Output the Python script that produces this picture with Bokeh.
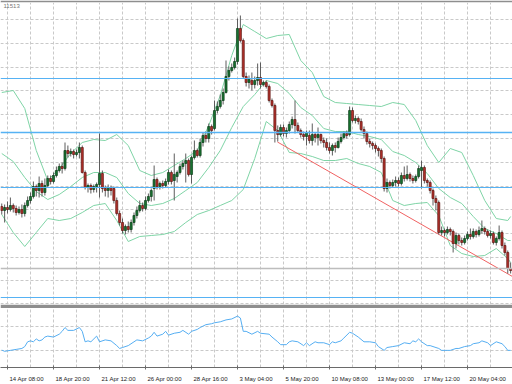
from bokeh.plotting import figure
from bokeh.layouts import column
from bokeh.models import (ColumnDataSource, FixedTicker, Span, Label, Range1d,
                          CustomJSTickFormatter)
from bokeh.embed import file_html
from bokeh.resources import INLINE

# ---------------- data ----------------
open_ = [1.1394,1.1390,1.1393,1.1391,1.1395,1.1392,1.1388,1.1391,1.1387,1.1395,
         1.1400,1.1404,1.1414,1.1410,1.1417,1.1408,1.1415,1.1422,1.1419,1.1425,
         1.1430,1.1434,1.1432,1.1450,1.1447,1.1449,1.1446,1.1448,1.1453,1.1428,
         1.1413,1.1415,1.1411,1.1414,1.1416,1.1427,1.1412,1.1410,1.1413,1.1412,
         1.1400,1.1387,1.1378,1.1370,1.1374,1.1371,1.1378,1.1385,1.1390,1.1395,
         1.1392,1.1400,1.1404,1.1412,1.1421,1.1414,1.1417,1.1415,1.1419,1.1428,
         1.1420,1.1424,1.1428,1.1434,1.1437,1.1440,1.1426,1.1443,1.1450,1.1445,
         1.1458,1.1465,1.1462,1.1474,1.1472,1.1490,1.1494,1.1500,1.1508,1.1524,
         1.1530,1.1533,1.1539,1.1572,1.1560,1.1524,1.1518,1.1520,1.1516,1.1520,
         1.1523,1.1516,1.1518,1.1514,1.1500,1.1495,1.1470,1.1466,1.1473,1.1467,
         1.1470,1.1476,1.1481,1.1475,1.1470,1.1466,1.1464,1.1465,1.1460,1.1466,
         1.1463,1.1466,1.1460,1.1458,1.1453,1.1450,1.1455,1.1453,1.1459,1.1463,
         1.1467,1.1466,1.1490,1.1480,1.1482,1.1479,1.1471,1.1467,1.1459,1.1457,
         1.1455,1.1452,1.1450,1.1442,1.1412,1.1418,1.1415,1.1418,1.1420,1.1417,
         1.1425,1.1422,1.1426,1.1422,1.1420,1.1424,1.1430,1.1433,1.1420,1.1418,
         1.1410,1.1402,1.1398,1.1368,1.1370,1.1368,1.1371,1.1369,1.1357,1.1365,
         1.1360,1.1358,1.1362,1.1366,1.1364,1.1369,1.1366,1.1370,1.1372,1.1369,
         1.1365,1.1367,1.1358,1.1362,1.1368,1.1355,1.1348,1.1332]
close = [1.1390,1.1393,1.1391,1.1395,1.1392,1.1388,1.1391,1.1387,1.1395,1.1400,
         1.1404,1.1414,1.1410,1.1417,1.1408,1.1415,1.1422,1.1419,1.1425,1.1430,
         1.1434,1.1432,1.1450,1.1447,1.1449,1.1446,1.1448,1.1453,1.1428,1.1413,
         1.1415,1.1411,1.1414,1.1416,1.1427,1.1412,1.1410,1.1413,1.1410,1.1400,
         1.1387,1.1378,1.1370,1.1374,1.1371,1.1378,1.1385,1.1390,1.1395,1.1392,
         1.1400,1.1404,1.1410,1.1421,1.1414,1.1417,1.1415,1.1419,1.1428,1.1419,
         1.1426,1.1428,1.1434,1.1437,1.1440,1.1426,1.1443,1.1450,1.1445,1.1458,
         1.1465,1.1462,1.1474,1.1470,1.1490,1.1494,1.1500,1.1508,1.1524,1.1530,
         1.1533,1.1539,1.1572,1.1560,1.1524,1.1518,1.1522,1.1516,1.1520,1.1523,
         1.1516,1.1518,1.1514,1.1500,1.1495,1.1470,1.1466,1.1473,1.1467,1.1470,
         1.1476,1.1481,1.1475,1.1470,1.1466,1.1464,1.1468,1.1460,1.1466,1.1463,
         1.1466,1.1460,1.1458,1.1453,1.1450,1.1455,1.1453,1.1459,1.1463,1.1467,
         1.1465,1.1490,1.1480,1.1482,1.1479,1.1471,1.1467,1.1459,1.1457,1.1455,
         1.1452,1.1450,1.1442,1.1412,1.1418,1.1415,1.1418,1.1420,1.1417,1.1425,
         1.1422,1.1426,1.1422,1.1420,1.1424,1.1432,1.1433,1.1420,1.1418,1.1410,
         1.1402,1.1398,1.1368,1.1370,1.1368,1.1371,1.1369,1.1357,1.1365,1.1360,
         1.1358,1.1362,1.1366,1.1364,1.1369,1.1366,1.1370,1.1372,1.1369,1.1365,
         1.1367,1.1358,1.1362,1.1368,1.1355,1.1348,1.1332,1.1330]
high = [1.1397,1.1396,1.1399,1.1403,1.1397,1.1395,1.1394,1.1396,1.1398,1.1404,
        1.1408,1.1419,1.1416,1.1424,1.1420,1.1422,1.1425,1.1425,1.1428,1.1434,
        1.1437,1.1438,1.1458,1.1455,1.1452,1.1451,1.1451,1.1458,1.1455,1.1430,
        1.1417,1.1417,1.1416,1.1418,1.1467,1.1430,1.1415,1.1416,1.1415,1.1414,
        1.1403,1.1390,1.1382,1.1376,1.1379,1.1381,1.1388,1.1394,1.1400,1.1398,
        1.1404,1.1407,1.1412,1.1435,1.1423,1.1419,1.1420,1.1422,1.1431,1.1430,
        1.1447,1.1430,1.1437,1.1440,1.1447,1.1442,1.1445,1.1460,1.1452,1.1462,
        1.1468,1.1469,1.1477,1.1476,1.1500,1.1499,1.1506,1.1512,1.1540,1.1534,
        1.1537,1.1543,1.1582,1.1585,1.1562,1.1528,1.1525,1.1528,1.1524,1.1537,
        1.1538,1.1520,1.1520,1.1516,1.1502,1.1497,1.1475,1.1476,1.1476,1.1473,
        1.1479,1.1484,1.1500,1.1478,1.1472,1.1469,1.1470,1.1470,1.1477,1.1468,
        1.1473,1.1467,1.1463,1.1462,1.1458,1.1457,1.1458,1.1463,1.1467,1.1469,
        1.1470,1.1494,1.1493,1.1485,1.1484,1.1482,1.1474,1.1469,1.1462,1.1459,
        1.1457,1.1454,1.1452,1.1444,1.1422,1.1420,1.1421,1.1424,1.1423,1.1428,
        1.1434,1.1435,1.1428,1.1425,1.1426,1.1435,1.1440,1.1435,1.1422,1.1420,
        1.1412,1.1405,1.1400,1.1374,1.1372,1.1374,1.1373,1.1371,1.1368,1.1367,
        1.1363,1.1365,1.1369,1.1372,1.1372,1.1371,1.1374,1.1380,1.1374,1.1371,
        1.1370,1.1369,1.1364,1.1375,1.1370,1.1358,1.1350,1.1338]
low = [1.1386,1.1378,1.1387,1.1389,1.1388,1.1385,1.1386,1.1383,1.1384,1.1393,
       1.1397,1.1402,1.1404,1.1403,1.1404,1.1405,1.1413,1.1416,1.1417,1.1423,
       1.1428,1.1427,1.1430,1.1443,1.1444,1.1442,1.1444,1.1442,1.1427,1.1411,
       1.1408,1.1407,1.1408,1.1408,1.1403,1.1408,1.1404,1.1403,1.1405,1.1397,
       1.1385,1.1375,1.1367,1.1366,1.1368,1.1368,1.1375,1.1382,1.1388,1.1389,
       1.1390,1.1398,1.1399,1.1400,1.1411,1.1411,1.1412,1.1413,1.1416,1.1416,
       1.1400,1.1418,1.1426,1.1431,1.1418,1.1424,1.1417,1.1441,1.1443,1.1443,
       1.1454,1.1458,1.1458,1.1466,1.1470,1.1487,1.1492,1.1496,1.1507,1.1520,
       1.1528,1.1531,1.1536,1.1558,1.1522,1.1514,1.1512,1.1510,1.1512,1.1515,
       1.1512,1.1514,1.1512,1.1498,1.1493,1.1458,1.1459,1.1464,1.1464,1.1463,
       1.1467,1.1472,1.1467,1.1468,1.1463,1.1460,1.1455,1.1457,1.1455,1.1458,
       1.1455,1.1457,1.1453,1.1450,1.1447,1.1445,1.1448,1.1452,1.1457,1.1461,
       1.1462,1.1464,1.1478,1.1477,1.1476,1.1469,1.1462,1.1456,1.1453,1.1451,
       1.1448,1.1444,1.1438,1.1409,1.1408,1.1412,1.1413,1.1414,1.1414,1.1415,
       1.1419,1.1420,1.1419,1.1417,1.1418,1.1422,1.1412,1.1417,1.1414,1.1407,
       1.1395,1.1390,1.1366,1.1365,1.1364,1.1366,1.1365,1.1348,1.1352,1.1356,
       1.1355,1.1356,1.1360,1.1361,1.1362,1.1363,1.1364,1.1367,1.1366,1.1363,
       1.1362,1.1356,1.1355,1.1360,1.1352,1.1345,1.1327,1.1327]
bars = list(range(len(close)))

# Bollinger bands, read every 4th bar
band_bar = [0, 4, 8, 12, 16, 20, 24, 28, 32, 36, 40, 44, 48, 52, 56, 60, 64, 68, 72, 76,
            80, 84, 88, 92, 96, 100, 104, 108, 112, 116, 120, 124, 128, 132, 136, 140,
            144, 148, 152, 156, 160, 164, 168, 172, 176, 177]
bb_upper = [1.1508,1.1510,1.1492,1.1450,1.1420,1.1432,1.1447,1.1458,1.1461,1.1460,
            1.1466,1.1455,1.1430,1.1425,1.1428,1.1435,1.1442,1.1450,1.1475,1.1505,
            1.1545,1.1576,1.1569,1.1562,1.1565,1.1566,1.1540,1.1528,1.1504,1.1498,
            1.1497,1.1496,1.1495,1.1494,1.1498,1.1496,1.1480,1.1455,1.1438,1.1452,
            1.1448,1.1425,1.1400,1.1382,1.1380,1.1384]
bb_mid = [1.1447,1.1439,1.1423,1.1409,1.1401,1.1406,1.1414,1.1423,1.1428,1.1428,
          1.1423,1.1407,1.1397,1.1395,1.1397,1.1402,1.1410,1.1418,1.1433,1.1450,
          1.1473,1.1494,1.1506,1.1520,1.1517,1.1507,1.1493,1.1485,1.1472,1.1469,
          1.1469,1.1466,1.1464,1.1461,1.1449,1.1445,1.1438,1.1427,1.1412,1.1403,
          1.1397,1.1384,1.1372,1.1367,1.1360,1.1360]
bb_lower = [1.1386,1.1368,1.1354,1.1368,1.1382,1.1380,1.1382,1.1388,1.1395,1.1397,
            1.1380,1.1359,1.1364,1.1365,1.1366,1.1369,1.1378,1.1386,1.1390,1.1395,
            1.1400,1.1411,1.1442,1.1479,1.1470,1.1448,1.1447,1.1444,1.1440,1.1440,
            1.1442,1.1437,1.1434,1.1428,1.1400,1.1395,1.1397,1.1398,1.1385,1.1355,
            1.1347,1.1344,1.1345,1.1352,1.1342,1.1338]

# lower indicator window
ind_bar = [0,1,3,5,7,8,9,10,11,12,13,14,15,16,18,20,21,22,23,25,27,28,29,30,31,33,34,36,38,
           40,41,42,44,46,47,49,51,52,53,54,56,57,58,60,62,63,65,66,68,69,71,73,74,76,78,
           80,82,83,84,85,87,89,90,93,94,96,97,99,100,101,103,105,106,107,109,110,112,114,
           115,116,118,119,121,122,124,126,128,130,131,133,134,136,138,140,142,143,144,145,
           146,148,149,150,152,153,155,156,158,159,161,163,164,166,167,169,170,172,174,175,
           176,177]
ind_val = [25.3,24,25,26,27,29,34,35,34,37,35,36,39,40,39,42,45,49,46,46,49,45,34,35,34,
           40,34,36,35,30,27,28,30,34,36,35,38,40,44,40,42,45,41,43,44,46,42,45,47,49,52,
           53,54,55,57,58,61,59,45,45,42,45,43,42,39,34,31,31,34,35,34,30,33,30,34,33,33,
           31,34,33,35,38,44,43,39,34,34,33,29,25,28,29,30,33,32,35,34,37,34,30,30,29,27,
           25,25,25,27,27,29,30,32,33,35,33,30,34,32,29,25,25]

level_blue = [1.1522, 1.1468, 1.1413, 1.1303]
level_gray = [1.1332]
trend_bar = [95.9, 178.0]
trend_price = [1.14585, 1.13234]
header_text = "11513"

tick_bars = [2, 18, 34, 50, 66, 82, 98, 114, 130, 146, 162]
tick_labels = ["14 Apr 08:00", "18 Apr 20:00", "21 Apr 12:00", "26 Apr 00:00",
               "28 Apr 16:00", "3 May 04:00", "5 May 20:00", "10 May 08:00",
               "13 May 00:00", "17 May 12:00", "20 May 04:00"]
price_grid = [1.1581, 1.1557, 1.1533, 1.1510, 1.1486, 1.1462, 1.1438, 1.1414,
              1.1391, 1.1367, 1.1343, 1.1320, 1.1297]
ind_grid = [25, 50]

# ---------------- styling / layout ----------------
GRID = "#c9c9c9"
BLUE = "#56b2f4"
BAND = "#7fd4a6"
grid_bars = list(range(2, 179, 8))
X0, X1 = -0.435, 177.65
W = 512
PX_PER_BAR = W / (X1 - X0)
FONT_PX = 6.0

# left-aligned tick labels: put each label's centre half its width right of its tick
EM = {" ": 0.278, ":": 0.278, "A": 0.667, "M": 0.833, "p": 0.556, "r": 0.333,
      "a": 0.556, "y": 0.5}
def text_w(s):
    return sum(EM.get(ch, 0.556) for ch in s) * FONT_PX
label_pos = [round(b + (2.0 + text_w(t) / 2) / PX_PER_BAR, 3)
             for b, t in zip(tick_bars, tick_labels)]

xr = Range1d(X0, X1)

p1 = figure(width=W, height=308, x_range=xr, y_range=Range1d(1.1296, 1.1598),
            output_backend="svg", toolbar_location=None,
            x_axis_location=None, y_axis_location=None,
            min_border_left=0, min_border_right=0, min_border_top=2, min_border_bottom=4,
            border_fill_color="#8e8e8e", background_fill_color="#ffffff",
            outline_line_color=None)
p1.xgrid.ticker = FixedTicker(ticks=grid_bars)
p1.ygrid.ticker = FixedTicker(ticks=price_grid)
p1.grid.grid_line_color = GRID
p1.grid.grid_line_dash = "3 2"
p1.grid.grid_line_width = 1

widths = [1, 1.6, 1, 1.2]
for lv, w in zip(level_blue, widths):
    p1.add_layout(Span(location=lv, dimension="width", line_color=BLUE, line_width=w))
for lv in level_gray:
    p1.add_layout(Span(location=lv, dimension="width", line_color="#bdbdbd", line_width=1.5))

for band in (bb_upper, bb_mid, bb_lower):
    p1.line(band_bar, band, line_color=BAND, line_width=1)

p1.line(trend_bar, trend_price, line_color="#f06262", line_width=1)

up = [c >= o for o, c in zip(open_, close)]
src = ColumnDataSource(dict(
    x=bars, h=high, l=low,
    top=[max(o, c) for o, c in zip(open_, close)],
    bot=[min(o, c) for o, c in zip(open_, close)],
    fill=["#17722f" if u else "#b3302a" for u in up],
    edge=["#0d3d1a" if u else "#5e1713" for u in up],
))
p1.segment(x0="x", y0="h", x1="x", y1="l", source=src, line_color="#5c5c5c", line_width=1)
p1.vbar(x="x", width=0.72, top="top", bottom="bot", fill_color="fill",
        line_color="edge", line_width=0.7, source=src)

p1.add_layout(Label(x=0.6, y=1.1597, text=header_text, text_baseline="top",
                    text_align="left", text_font_size="6px", text_color="#777777",
                    text_font="Liberation Sans"))

p2 = figure(width=W, height=76, x_range=xr, y_range=Range1d(7, 69),
            output_backend="svg", toolbar_location=None, y_axis_location=None,
            min_border_left=0, min_border_right=0, min_border_top=0, min_border_bottom=14,
            background_fill_color="#ffffff", outline_line_color=None)
p2.xaxis.ticker = FixedTicker(ticks=label_pos, minor_ticks=tick_bars)
p2.xaxis.formatter = CustomJSTickFormatter(
    args=dict(pos=label_pos, labels=tick_labels),
    code="""
        let best = 0;
        for (let k = 0; k < pos.length; k++) {
            if (Math.abs(pos[k] - tick) < Math.abs(pos[best] - tick)) best = k;
        }
        return labels[best];
    """)
p2.xaxis.major_label_text_font_size = f"{FONT_PX}px"
p2.xaxis.major_label_text_font = "Liberation Sans"
p2.xaxis.major_label_text_color = "#222222"
p2.xaxis.major_label_standoff = 2
p2.xaxis.axis_line_color = "#6a6a6a"
p2.xaxis.major_tick_line_color = None
p2.xaxis.minor_tick_line_color = "#6a6a6a"
p2.xaxis.minor_tick_in = 2
p2.xaxis.minor_tick_out = 2
p2.xgrid.ticker = FixedTicker(ticks=grid_bars)
p2.ygrid.ticker = FixedTicker(ticks=ind_grid)
p2.grid.grid_line_color = GRID
p2.grid.grid_line_dash = "3 2"

p2.line(ind_bar, ind_val, line_color="#55aef2", line_width=1)

layout = column(p1, p2)
open("out.html", "w").write(file_html(layout, INLINE, title="chart"))
